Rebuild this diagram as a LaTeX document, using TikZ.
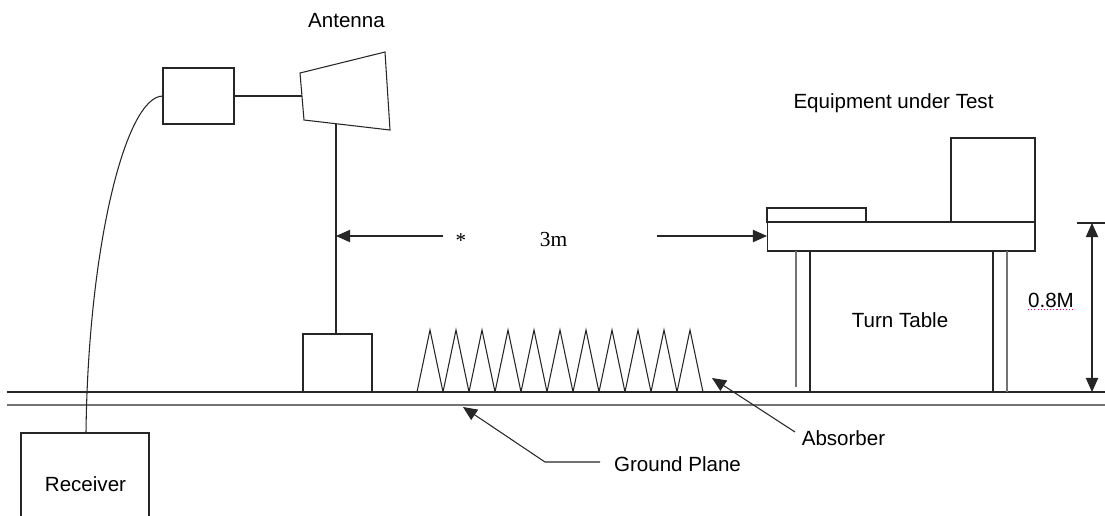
\documentclass[tikz,border=0pt]{standalone}
\usepackage{fontspec}
\setmainfont{Liberation Sans}
\newfontfamily\serifrm{Liberation Serif}
\usetikzlibrary{arrows.meta}
\begin{document}
\begin{tikzpicture}[x=0.02cm,y=-0.02cm,
  ln/.style={draw=black!85,line width=0.6pt},
  gln/.style={draw=black!55,line width=1.1pt},
  box/.style={draw=black!85,line width=0.6pt,inner sep=0pt,outer sep=0pt},
  lbl/.style={inner sep=0pt,anchor=base,font=\fontsize{11.7}{14}\selectfont},
  arr/.style={ln,-{Triangle[length=8pt,width=7pt]}},
  darr/.style={ln,{Triangle[length=8pt,width=7pt]}-{Triangle[length=8pt,width=7pt]}}
]
\useasboundingbox (0,0) rectangle (1105,515);
\clip (0,0) rectangle (1105,515);
\fill[white] (0,0) rectangle (1105,515);

% ground plane
\coordinate (g1l) at (7,392); \coordinate (g1r) at (1105,392);
\coordinate (g2l) at (7,405); \coordinate (g2r) at (1105,405);
\draw[ln] (g1l) -- (g1r);
\draw[gln] (g2l) -- (g2r);

% antenna side
\node[box,minimum width=1.42cm,minimum height=1.12cm] (coupler) at (198.5,96) {};
\coordinate (a1) at (300,73); \coordinate (a2) at (385,52);
\coordinate (a3) at (390,130); \coordinate (a4) at (304,120);
\draw[ln,fill=white] (a1) -- (a2) -- (a3) -- (a4) -- cycle;
\coordinate (afeed) at (301.5,96);
\draw[ln] (coupler.east) -- (afeed);
\node[box,minimum width=1.38cm,minimum height=1.16cm] (mastbase) at (337.5,363) {};
\coordinate (masttop) at (336,123.7);
\coordinate (mastbot) at (336,334);
\draw[ln] (masttop) -- (mastbot);
\node[lbl] (antlbl) at (346.5,27) {Antenna};

% receiver and cable
\node[box,minimum width=2.56cm,minimum height=2.4cm] (receiver) at (85,493) {};
\node[lbl] (reclbl) at (85.5,491) {Receiver};
\coordinate (rectop) at (86,433);
\draw[ln] (coupler.west) .. controls (125,96) and (88,250) .. (rectop);

% 3m distance
\coordinate (d3l) at (443,236); \coordinate (d3lt) at (336,236);
\coordinate (d3r) at (657,236); \coordinate (d3rt) at (767,236);
\draw[arr] (d3l) -- (d3lt);
\draw[arr] (d3r) -- (d3rt);
\node[inner sep=0pt,font=\serifrm\fontsize{12}{14}\selectfont] (star) at (461,241) {*};
\node[lbl,font=\serifrm\fontsize{12.2}{14}\selectfont] (threem) at (553.5,246) {3m};

% absorber
\foreach \i in {0,...,10} {
  \pgfmathsetmacro{\xa}{417+26*\i}
  \pgfmathsetmacro{\xb}{430+26*\i}
  \pgfmathsetmacro{\xc}{443+26*\i}
  \draw[ln,line join=miter] (\xa,392) -- (\xb,330) -- (\xc,392);
}
\coordinate (abst) at (712,378); \coordinate (absf) at (795,432);
\draw[arr] (absf) -- (abst);
\node[lbl] (abslbl) at (843.5,445) {Absorber};

% ground plane label
\coordinate (gpf) at (600,462); \coordinate (gpk) at (545,462); \coordinate (gpt) at (463,407);
\draw[arr] (gpf) -- (gpk) -- (gpt);
\node[lbl] (gplbl) at (677.5,471) {Ground Plane};

% table
\node[box,minimum width=5.36cm,minimum height=0.58cm] (slab) at (901,236.5) {};
\node[box,minimum width=1.98cm,minimum height=0.28cm] (board) at (816.5,215) {};
\node[box,minimum width=1.68cm,minimum height=1.68cm] (eut) at (993,180) {};
\coordinate (l1a) at (796,251); \coordinate (l1b) at (796,387);
\coordinate (l2a) at (810,251); \coordinate (l2b) at (810,392);
\coordinate (l3a) at (993,251); \coordinate (l3b) at (993,392);
\coordinate (l4a) at (1007,251); \coordinate (l4b) at (1007,392);
\draw[gln,line width=0.9pt] (l1a) -- (l1b);
\draw[ln] (l2a) -- (l2b);
\draw[ln] (l3a) -- (l3b);
\draw[gln,line width=0.9pt] (l4a) -- (l4b);
\node[lbl] (eutlbl) at (893.5,108) {Equipment under Test};
\node[lbl] (ttlbl) at (900,327) {Turn Table};

% height
\coordinate (hta) at (1077,223); \coordinate (htb) at (1105,223);
\draw[ln] (hta) -- (htb);
\coordinate (hat) at (1092,223); \coordinate (hab) at (1092,392);
\draw[darr] (hat) -- (hab);
\node[lbl] (hlbl) at (1051,307) {0.8M};
\coordinate (sq1) at (1028,309.5); \coordinate (sq2) at (1074,309.5);
\draw[magenta,line width=0.6pt,dash pattern=on 0.6pt off 1.2pt] (sq1) -- (sq2);
\end{tikzpicture}
\end{document}
